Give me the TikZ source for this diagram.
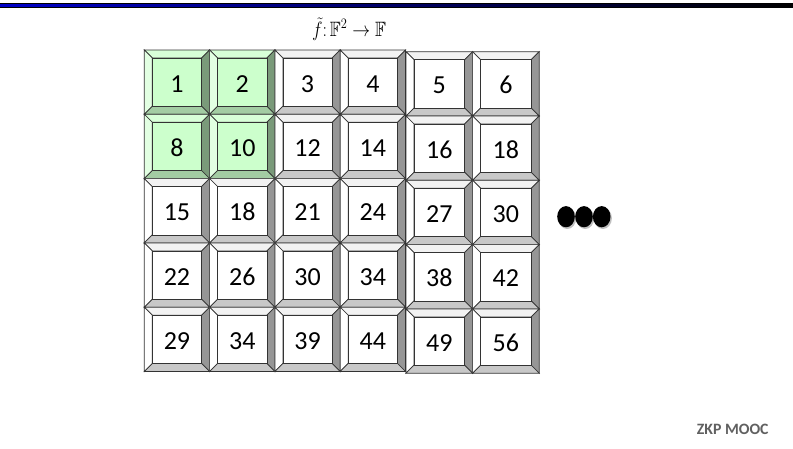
\documentclass[tikz,border=0pt]{standalone}
\usepackage{amssymb}
\usepackage{graphicx}
\usepackage{fontspec}
\newfontfamily\carlito{Carlito}
\definecolor{wface}{HTML}{FFFFFF}
\definecolor{wleft}{HTML}{FFFFFF}
\definecolor{wtop}{HTML}{F2F2F2}
\definecolor{wright}{HTML}{969696}
\definecolor{wbottom}{HTML}{C8C8C8}
\definecolor{gface}{HTML}{CCFFCC}
\definecolor{gleft}{HTML}{E2FFE2}
\definecolor{gtop}{HTML}{D8FFD8}
\definecolor{gright}{HTML}{7A9A7A}
\definecolor{gbottom}{HTML}{A3CCA3}
\definecolor{barblue}{HTML}{0000C8}
\definecolor{footgray}{HTML}{606060}
\tikzset{
  bevline/.style={draw=black!80, line width=0.7pt, line join=miter},
  numlbl/.style={font=\carlito\fontsize{26}{30}\selectfont, anchor=base, inner sep=0pt, text=black},
  titlelbl/.style={font=\fontsize{20.74}{24}\selectfont, anchor=base, inner sep=0pt},
  footlbl/.style={font=\carlito\bfseries\fontsize{15.8}{18}\selectfont, anchor=base west, inner sep=0pt, text=footgray},
  dotfill/.style={fill=black},
  dotshadow/.style={fill=black, opacity=0.25}
}
\newcommand{\bevcell}[7]{%
  \pgfmathsetmacro{\xa}{#1}\pgfmathsetmacro{\ya}{#2}%
  \pgfmathsetmacro{\xb}{#1+#3}\pgfmathsetmacro{\yb}{#2+#4}%
  \pgfmathsetmacro{\xc}{#1+8}\pgfmathsetmacro{\yc}{#2+8}%
  \pgfmathsetmacro{\xd}{#1+#3-8}\pgfmathsetmacro{\yd}{#2+#4-8}%
  \pgfmathsetmacro{\xm}{#1+#3/2}\pgfmathsetmacro{\ym}{#2+#4/2+10}%
  \filldraw[bevline, fill=#5top] (\xa,\ya) -- (\xb,\ya) -- (\xd,\yc) -- (\xc,\yc) -- cycle;
  \filldraw[bevline, fill=#5left] (\xa,\ya) -- (\xc,\yc) -- (\xc,\yd) -- (\xa,\yb) -- cycle;
  \filldraw[bevline, fill=#5right] (\xb,\ya) -- (\xb,\yb) -- (\xd,\yd) -- (\xd,\yc) -- cycle;
  \filldraw[bevline, fill=#5bottom] (\xa,\yb) -- (\xb,\yb) -- (\xd,\yd) -- (\xc,\yd) -- cycle;
  \filldraw[bevline, fill=#5face] (\xc,\yc) rectangle (\xd,\yd);
  \node[numlbl] (#7) at (\xm,\ym) {#6};
}
\begin{document}
\begin{tikzpicture}[x=1pt,y=-1pt]
\useasboundingbox (0,0) rectangle (793,448);
\fill[white] (0,0) rectangle (793,448);
% top bar
\shade[left color=barblue, right color=black] (0,3.3) rectangle (793,7.7);
\draw[black, line width=0.6pt] (0,3.3) -- (793,3.3) (0,7.7) -- (793,7.7);
% title
\node[titlelbl] (title) at (349,36.5) {\scalebox{0.86}[1]{$\tilde{f}{:}\,\mathbb{F}^2\to\mathbb{F}$}};
% grid
\foreach \r/\vals in {1/{1,2,3,4,5,6},2/{8,10,12,14,16,18},3/{15,18,21,24,27,30},4/{22,26,30,34,38,42},5/{29,34,39,44,49,56}}{
  \foreach \v [count=\c] in \vals {
    \ifnum\c<5
      \pgfmathsetmacro{\cx}{144.3+(\c-1)*65.3}\def\cw{65.3}%
      \pgfmathsetmacro{\cy}{50+(\r-1)*64.3}%
    \else
      \pgfmathsetmacro{\cx}{406+(\c-5)*66.6}\def\cw{66.6}%
      \pgfmathsetmacro{\cy}{51.7+(\r-1)*64.3}%
    \fi
    \def\pfx{w}%
    \ifnum\r<3 \ifnum\c<3 \def\pfx{g}\fi\fi
    \bevcell{\cx}{\cy}{\cw}{64.3}{\pfx}{\v}{cell-\r-\c}
  }
}
% ellipsis dots
\foreach \dx [count=\i] in {566,584,601.7}{
  \fill[dotshadow] (\dx+1.2,218.2) ellipse [x radius=9pt, y radius=10.8pt];
  \fill[dotfill] (\dx,216.7) ellipse [x radius=8.8pt, y radius=10.6pt];
}
% footer
\node[footlbl] (foot) at (696.7,434) {ZKP MOOC};
\end{tikzpicture}
\end{document}
